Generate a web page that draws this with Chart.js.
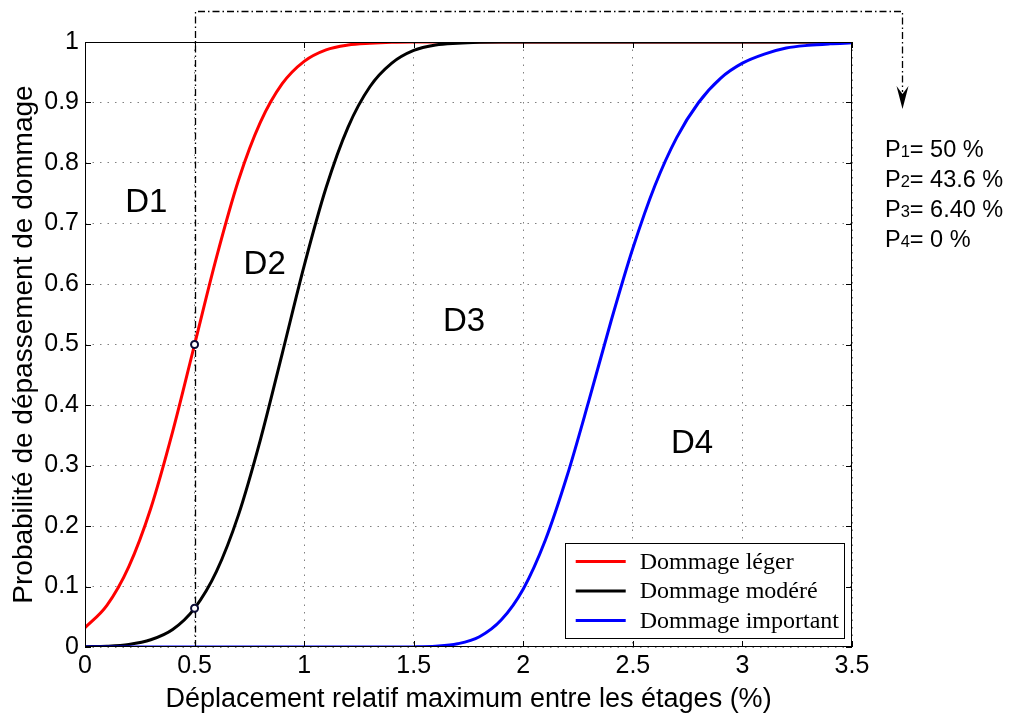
<!DOCTYPE html>
<html>
<head>
<meta charset="utf-8">
<script src="https://cdn.jsdelivr.net/npm/chart.js@4.4.1/dist/chart.umd.min.js"></script>
<style>
  html, body { margin: 0; padding: 0; background: #fff; }
  #wrap { width: 1015px; height: 719px; }
</style>
</head>
<body>
<div id="wrap"><canvas id="fragility"></canvas></div>
<script>
// inter-storey drift (%) where the curves were read
const drift = [0, 0.1, 0.2, 0.3, 0.4, 0.5, 0.6, 0.7, 0.8, 0.9, 1.0, 1.1, 1.2, 1.3, 1.4, 1.5, 1.6, 1.7,
               1.8, 1.9, 2.0, 2.1, 2.2, 2.3, 2.4, 2.5, 2.6, 2.7, 2.8, 2.9, 3.0, 3.1, 3.2, 3.3, 3.4, 3.5];
const lightDamage = [0.032, 0.069, 0.133, 0.229, 0.356, 0.5, 0.644, 0.771, 0.867, 0.931, 0.968, 0.987, 0.995, 0.998, 0.9996,
                     1, 1, 1, 1, 1, 1, 1, 1, 1, 1, 1, 1, 1, 1, 1, 1, 1, 1, 1, 1, 1];
const moderateDamage = [0.0004, 0.0013, 0.0043, 0.012, 0.029, 0.064, 0.125, 0.218, 0.342, 0.485, 0.63, 0.759, 0.859, 0.926,
                        0.965, 0.986, 0.995, 0.998, 0.9995, 1, 1, 1, 1, 1, 1, 1, 1, 1, 1, 1, 1, 1, 1, 1, 1, 1];
const severeDamage = [0, 0, 0, 0, 0, 0, 0, 0, 0, 0, 0, 0, 0, 0, 0,
                      0.0002, 0.0013, 0.0053, 0.017, 0.045, 0.096, 0.176, 0.283, 0.408, 0.538, 0.659, 0.762, 0.842,
                      0.9, 0.94, 0.965, 0.98, 0.99, 0.9945, 0.997, 0.9986];
const seriesNames = ["Dommage léger", "Dommage modéré", "Dommage important"];
const markerDrift = [0.5, 0.5];
const markerProb = [0.5, 0.064];
const xTickLabels = ["0", "0.5", "1", "1.5", "2", "2.5", "3", "3.5"];
const yTickLabels = ["0", "0.1", "0.2", "0.3", "0.4", "0.5", "0.6", "0.7", "0.8", "0.9", "1"];
const zoneNames = ["D1", "D2", "D3", "D4"];
const probIndex = ["1", "2", "3", "4"];
const probText = ["= 50 %", "= 43.6 %", "= 6.40 %", "= 0 %"];

const sans = "'Liberation Sans', Arial, Helvetica, sans-serif";
const serif = "'Liberation Serif', 'Times New Roman', serif";

function toPoints(ys) {
    return drift.map((d, i) => ({x: d, y: ys[i]}));
}

const decor = {
    id: 'decor',
    beforeDatasetsDraw(chart) {
        const {ctx, chartArea: a, scales: {x, y}} = chart;
        const gx = Math.round(x.getPixelForValue(markerDrift[0])) + 0.5;
        const topY = 11.5, arrowX = Math.round(a.right + 50) + 0.5;
        ctx.save();
        ctx.strokeStyle = '#000';
        ctx.lineWidth = 1.3;
        ctx.setLineDash([7, 3, 1.5, 3]);
        ctx.beginPath();
        ctx.moveTo(gx, a.bottom);
        ctx.lineTo(gx, topY);
        ctx.lineTo(arrowX, topY);
        ctx.lineTo(arrowX, 92);
        ctx.stroke();
        ctx.setLineDash([]);
        ctx.fillStyle = '#000';
        ctx.beginPath();
        ctx.moveTo(arrowX - 6, 86);
        ctx.lineTo(arrowX, 94);
        ctx.lineTo(arrowX + 6, 86);
        ctx.lineTo(arrowX, 109);
        ctx.closePath();
        ctx.fill();
        ctx.restore();
    },
    afterDraw(chart) {
        const {ctx, chartArea: a, scales: {x, y}} = chart;
        ctx.save();
        // box + inward ticks
        ctx.strokeStyle = '#000';
        ctx.lineWidth = 1;
        ctx.strokeRect(a.left + 0.5, a.top + 0.5, a.width - 1, a.height - 1);
        ctx.beginPath();
        x.ticks.forEach(t => {
            const px = Math.round(x.getPixelForValue(t.value)) + 0.5;
            ctx.moveTo(px, a.bottom); ctx.lineTo(px, a.bottom - 6);
            ctx.moveTo(px, a.top); ctx.lineTo(px, a.top + 6);
        });
        y.ticks.forEach(t => {
            const py = Math.round(y.getPixelForValue(t.value)) + 0.5;
            ctx.moveTo(a.left, py); ctx.lineTo(a.left + 6, py);
            ctx.moveTo(a.right, py); ctx.lineTo(a.right - 6, py);
        });
        ctx.stroke();

        // zone labels
        const zonePos = [[0.28, 0.734], [0.82, 0.631], [1.73, 0.537], [2.77, 0.336]];
        ctx.fillStyle = '#000';
        ctx.font = '33px ' + sans;
        ctx.textAlign = 'center';
        ctx.textBaseline = 'middle';
        zoneNames.forEach((n, i) => {
            ctx.fillText(n, x.getPixelForValue(zonePos[i][0]), y.getPixelForValue(zonePos[i][1]));
        });

        // probabilities under the arrow
        ctx.textAlign = 'left';
        ctx.textBaseline = 'alphabetic';
        const px0 = a.right + 33;
        probIndex.forEach((n, i) => {
            const by = 157 + i * 30;
            let cx = px0;
            ctx.font = '23.5px ' + sans;
            ctx.fillText('P', cx, by);
            cx += ctx.measureText('P').width;
            ctx.font = '16.5px ' + sans;
            ctx.fillText(n, cx, by);
            cx += ctx.measureText(n).width;
            ctx.font = '23.5px ' + sans;
            ctx.fillText(probText[i], cx, by);
        });

        // legend box (bottom right, inside axes)
        ctx.font = '24px ' + serif;
        const sets = chart.data.datasets.filter(d => d.label);
        const tw = Math.max(...sets.map(d => ctx.measureText(d.label).width));
        const bw = 75 + tw + 5, bh = 95;
        const bx = a.right - 8 - bw, by0 = a.bottom - 9 - bh;
        ctx.fillStyle = '#fff';
        ctx.fillRect(bx, by0, bw, bh);
        ctx.strokeStyle = '#000';
        ctx.lineWidth = 1;
        ctx.strokeRect(Math.round(bx) + 0.5, Math.round(by0) + 0.5, Math.round(bw), bh);
        ctx.textBaseline = 'middle';
        sets.forEach((d, i) => {
            const ry = by0 + 18.5 + i * 29.5;
            ctx.strokeStyle = d.borderColor;
            ctx.lineWidth = 3;
            ctx.beginPath();
            ctx.moveTo(bx + 11, ry);
            ctx.lineTo(bx + 61, ry);
            ctx.stroke();
            ctx.fillStyle = '#000';
            ctx.fillText(d.label, bx + 75, ry + 1);
        });
        ctx.restore();
    }
};

const gridCommon = {color: '#808080', lineWidth: 1, drawTicks: false};

new Chart(document.getElementById('fragility'), {
    type: 'line',
    data: {
        datasets: [
            {label: seriesNames[0], data: toPoints(lightDamage), borderColor: '#ff0000', order: 3},
            {label: seriesNames[1], data: toPoints(moderateDamage), borderColor: '#000000', order: 2},
            {label: seriesNames[2], data: toPoints(severeDamage), borderColor: '#0000ff', order: 1},
            {label: '', data: markerDrift.map((d, i) => ({x: d, y: markerProb[i]})), showLine: false,
             pointRadius: 3.5, pointBorderWidth: 2, pointBorderColor: '#0b0b35', pointBackgroundColor: '#fff', order: 0}
        ]
    },
    options: {
        responsive: true,
        maintainAspectRatio: false,
        animation: false,
        devicePixelRatio: 1,
        layout: {padding: {left: 0, top: 42, right: 163, bottom: 0}},
        elements: {
            line: {borderWidth: 3, cubicInterpolationMode: 'monotone', fill: false},
            point: {radius: 0}
        },
        plugins: {legend: {display: false}, tooltip: {enabled: false}},
        scales: {
            x: {
                type: 'linear', min: 0, max: 3.5,
                grid: gridCommon,
                border: {display: false, dash: [1.5, 6]},
                ticks: {stepSize: 0.5, padding: 4, color: '#000', font: {family: sans, size: 25},
                        maxRotation: 0, callback: (v, i) => xTickLabels[i]},
                title: {display: true, text: 'Déplacement relatif maximum entre les étages (%)', color: '#000',
                        font: {family: sans, size: 27}, padding: {top: 0, bottom: 3}},
                afterFit: s => { s.height = 72; }
            },
            y: {
                type: 'linear', min: 0, max: 1,
                grid: gridCommon,
                border: {display: false, dash: [1.5, 6]},
                ticks: {stepSize: 0.1, padding: 6, color: '#000', font: {family: sans, size: 25},
                        callback: (v, i) => yTickLabels[i]},
                title: {display: true, text: 'Probabilité de dépassement de dommage', color: '#000',
                        font: {family: sans, size: 28}, padding: {top: 7, bottom: 0}},
                afterFit: s => { s.width = 85; }
            }
        }
    },
    plugins: [decor]
});
</script>
</body>
</html>
